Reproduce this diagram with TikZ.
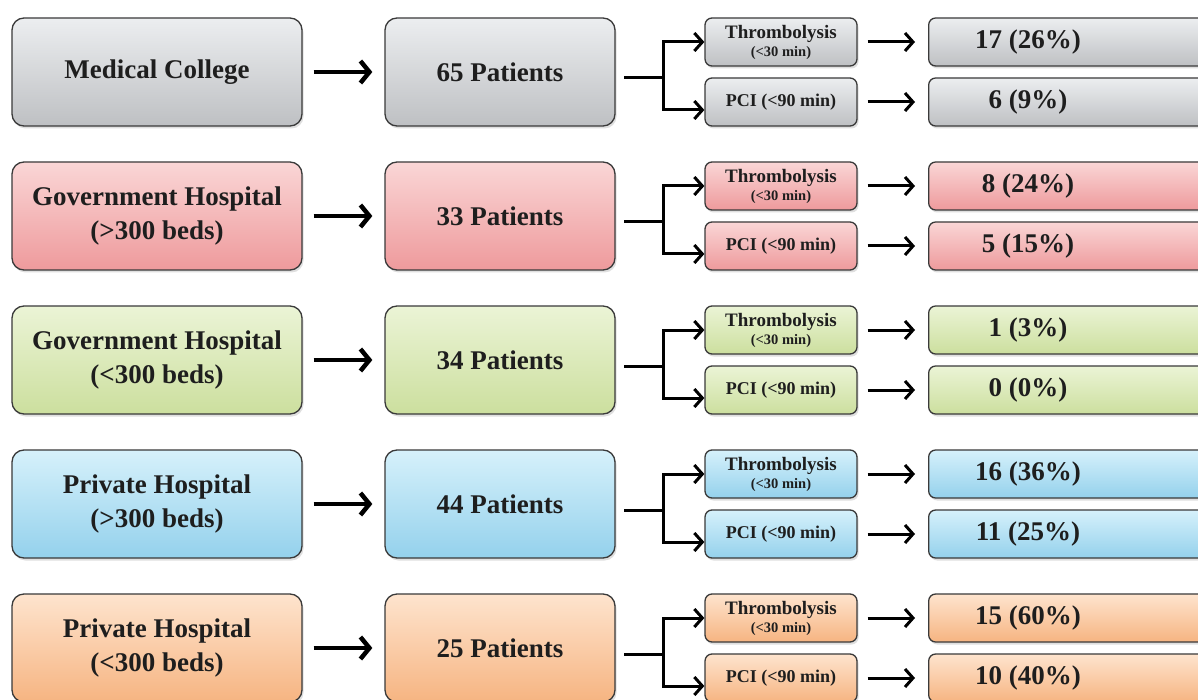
\documentclass[tikz,border=0pt]{standalone}
\usepackage{fontspec}
\setmainfont{Liberation Serif}
\usetikzlibrary{arrows.meta,shadows}
\definecolor{gtop}{HTML}{ECEEF0}\definecolor{gbot}{HTML}{BEC0C3}
\definecolor{rtop}{HTML}{FAD6D6}\definecolor{rbot}{HTML}{EE9A9C}
\definecolor{ltop}{HTML}{EBF4D6}\definecolor{lbot}{HTML}{CCDF9E}
\definecolor{btop}{HTML}{D6F1FB}\definecolor{bbot}{HTML}{94D1EC}
\definecolor{otop}{HTML}{FEE4CE}\definecolor{obot}{HTML}{F6B481}
\definecolor{edge}{HTML}{3A3A3A}
\definecolor{ink}{HTML}{1E1E1E}
\begin{document}
\begin{tikzpicture}[x=1pt,y=-1pt,
  fillgray/.style={top color=gtop,bottom color=gbot},
  fillred/.style={top color=rtop,bottom color=rbot},
  fillgreen/.style={top color=ltop,bottom color=lbot},
  fillblue/.style={top color=btop,bottom color=bbot},
  fillorange/.style={top color=otop,bottom color=obot},
  box/.style={draw=edge,line width=1.3pt,text=ink,align=center,inner sep=0pt,
    drop shadow={opacity=0.25,shadow xshift=1.5pt,shadow yshift=-2.5pt}},
  bigbox/.style={box,rounded corners=12pt,minimum width=290pt,minimum height=108pt,
    font=\fontsize{27}{34}\selectfont\bfseries},
  patbox/.style={box,rounded corners=12pt,minimum width=230pt,minimum height=108pt,
    font=\fontsize{27}{34}\selectfont\bfseries},
  smallbox/.style={box,rounded corners=7pt,minimum width=152pt,minimum height=48pt,
    font=\fontsize{18}{20}\selectfont\bfseries},
  resbox/.style={box,rounded corners=7pt,minimum width=300pt,minimum height=48pt,anchor=west},
  restext/.style={text=ink,inner sep=0pt,font=\fontsize{27}{30}\selectfont\bfseries},
  bigarrow/.style={line width=4.5pt,-{Straight Barb[length=9pt,width=22pt,line width=4.5pt]}},
  midarrow/.style={line width=3pt,-{Straight Barb[length=8pt,width=18pt,line width=3pt]}},
  branch/.style={line width=3pt,-{Straight Barb[length=8pt,width=18pt,line width=3pt]}}
]
\clip (0,0) rectangle (1198,700);
\fill[white] (0,0) rectangle (1198,700);
\newcommand\hosprow[7]{%
  \node[bigbox,#3] (h#1) at (157,#2+54) {#4};
  \node[patbox,#3] (p#1) at (500,#2+54) {#5};
  \node[smallbox,#3] (t#1) at (781,#2+24) {{\fontsize{19}{19}\selectfont Thrombolysis}\\[-2pt]{\fontsize{14.5}{14.5}\selectfont(<30 min)}};
  \node[smallbox,#3] (c#1) at (781,#2+84) {PCI (<90 min)};
  \node[resbox,#3] (r#1a) at (928,#2+24) {};
  \node[resbox,#3] (r#1b) at (928,#2+84) {};
  \node[restext] (r#1at) at (1028,#2+24) {#6};
  \node[restext] (r#1bt) at (1028,#2+84) {#7};
  \coordinate (b#1) at (624,#2+60);
  \draw[bigarrow,shorten <=11pt,shorten >=12pt] (h#1.east) -- (p#1.west);
  \draw[line width=3pt] (p#1.east |- b#1) ++(9,0) -- (b#1);
  \draw[branch] (b#1) -- ++(39,0) |- (t#1.west);
  \draw[branch] (b#1) -- ++(39,0) |- ([yshift=-8pt]c#1.west);
  \draw[midarrow,shorten <=10pt,shorten >=13pt] (t#1.east) -- (r#1a.west);
  \draw[midarrow,shorten <=10pt,shorten >=13pt] (c#1.east) -- (r#1b.west);
}
\hosprow{1}{18}{fillgray}{Medical College}{65 Patients}{17 (26\%)}{6 (9\%)}
\hosprow{2}{162}{fillred}{Government  Hospital\\(>300 beds)}{33 Patients}{8 (24\%)}{5 (15\%)}
\hosprow{3}{306}{fillgreen}{Government  Hospital\\(<300 beds)}{34 Patients}{1 (3\%)}{0 (0\%)}
\hosprow{4}{450}{fillblue}{Private Hospital\\(>300 beds)}{44 Patients}{16 (36\%)}{11 (25\%)}
\hosprow{5}{594}{fillorange}{Private Hospital\\(<300 beds)}{25 Patients}{15 (60\%)}{10 (40\%)}
\end{tikzpicture}
\end{document}
